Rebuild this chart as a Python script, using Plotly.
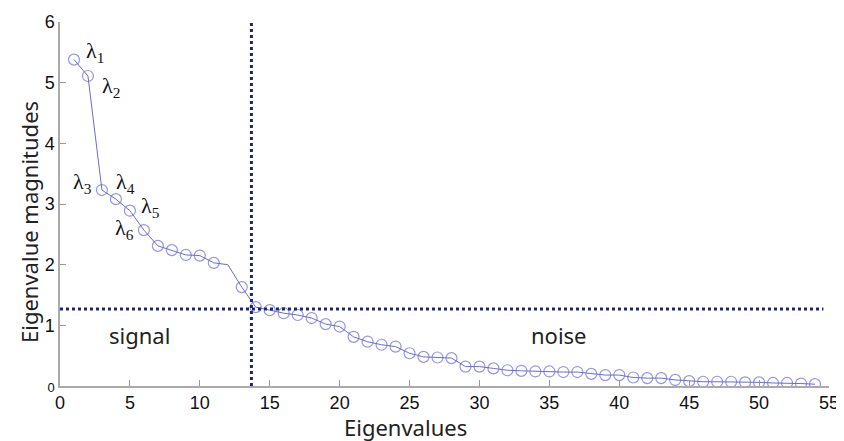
import plotly.graph_objects as go

# ---- data ----
idx = list(range(1, 55))
eig = [5.38, 5.11, 3.23, 3.08, 2.89, 2.57, 2.31, 2.24, 2.16, 2.15,
       2.03, 2.00, 1.63, 1.30, 1.25, 1.20, 1.17, 1.12, 1.02, 0.98,
       0.81, 0.73, 0.68, 0.65, 0.54, 0.48, 0.47, 0.46, 0.32, 0.32,
       0.29, 0.26, 0.25, 0.24, 0.24, 0.23, 0.23, 0.20, 0.18, 0.18,
       0.14, 0.13, 0.13, 0.10, 0.08, 0.07, 0.07, 0.07, 0.06, 0.06,
       0.05, 0.05, 0.04, 0.03]
no_marker_at = [12]
threshold_x = 13.69
threshold_y = 1.27
x_ticks = [0, 5, 10, 15, 20, 25, 30, 35, 40, 45, 50, 55]
y_ticks = [0, 1, 2, 3, 4, 5, 6]
lambda_labels = ["1", "2", "3", "4", "5", "6"]
lambda_pos = [(2.48, 5.50), (3.63, 4.93), (1.62, 3.34), (4.70, 3.34), (6.49, 2.95), (4.63, 2.59)]
region_labels = ["signal", "noise"]
region_pos = [(5.7, 0.84), (35.7, 0.84)]
x_title = "Eigenvalues"
y_title = "Eigenvalue magnitudes"

blue = "#6a6ad6"
navy = "#1c2478"

# page body has an 8px margin; size the figure so the plot lands where the reference has it
W, H = 836, 433
ML, MR, MT, MB = 52, 15, 14, 55
plot_w = W - ML - MR
plot_h = H - MT - MB

sizes = [0 if i in no_marker_at else 11 for i in idx]

fig = go.Figure()
fig.add_trace(go.Scatter(
    x=idx, y=eig, mode="lines+markers",
    line=dict(color=blue, width=1),
    marker=dict(symbol="circle-open", size=sizes, color=blue, line=dict(width=1.2, color=blue)),
    showlegend=False, hoverinfo="skip"))

fig.add_shape(type="line", xref="x", yref="y", x0=threshold_x, x1=threshold_x, y0=0, y1=6,
              line=dict(color=navy, width=3, dash="dot"))
fig.add_shape(type="line", xref="x", yref="y", x0=0, x1=54.6, y0=threshold_y, y1=threshold_y,
              line=dict(color=navy, width=3, dash="dot"))

for lab, (ax, ay) in zip(lambda_labels, lambda_pos):
    fig.add_annotation(x=ax, y=ay, xref="x", yref="y", showarrow=False,
                       xanchor="center", yanchor="middle",
                       text="λ<sub>" + lab + "</sub>",
                       font=dict(family="Liberation Serif", size=22, color="#111"))

for lab, (ax, ay) in zip(region_labels, region_pos):
    fig.add_annotation(x=ax, y=ay, xref="x", yref="y", showarrow=False, text=lab,
                       xanchor="center", yanchor="middle",
                       font=dict(family="Noto Sans", size=22, color="#222"))

fig.add_annotation(x=24.7, y=-41 / plot_h, xref="x", yref="paper", showarrow=False, text=x_title,
                   xanchor="center", yanchor="middle",
                   font=dict(family="Noto Sans", size=22, color="#222"))
fig.add_annotation(xref="paper", yref="paper", x=-31 / plot_w, y=164 / plot_h, showarrow=False,
                   text=y_title, textangle=-90, xanchor="center", yanchor="middle",
                   font=dict(family="Noto Sans", size=22, color="#222"))

ytext = ["<span style='font-size:13px'>0</span>"] + [str(v) for v in y_ticks[1:]]

fig.update_layout(
    width=W, height=H,
    margin=dict(l=ML, r=MR, t=MT, b=MB),
    paper_bgcolor="white", plot_bgcolor="white",
    xaxis=dict(range=[0, 55], tickvals=x_ticks, ticks="inside", ticklen=6, tickcolor="#999",
               showline=True, linecolor="#aaa", linewidth=1.5, showgrid=False, automargin=False,
               ticklabeloverflow="allow", zeroline=False,
               tickfont=dict(family="Liberation Sans", size=18, color="#111")),
    yaxis=dict(range=[0, 6], tickvals=y_ticks, ticktext=ytext, ticks="inside", ticklen=6,
               tickcolor="#999", showline=True, linecolor="#aaa", linewidth=1.5, showgrid=False,
               automargin=False, zeroline=False,
               tickfont=dict(family="Liberation Sans", size=18, color="#111")),
    yaxis2=dict(range=[0, 6], overlaying="y", side="right", tickvals=y_ticks, ticks="inside",
                ticklen=6, tickcolor="#666", showline=True, linecolor="#666", linewidth=1.2,
                showticklabels=False, showgrid=False, zeroline=False, automargin=False),
    xaxis2=dict(range=[0, 55], overlaying="x", side="top", showline=True, linecolor="#c0c0c0",
                linewidth=2.5, ticks="", showticklabels=False, showgrid=False, zeroline=False,
                automargin=False),
)

fig.write_html("out.html")
